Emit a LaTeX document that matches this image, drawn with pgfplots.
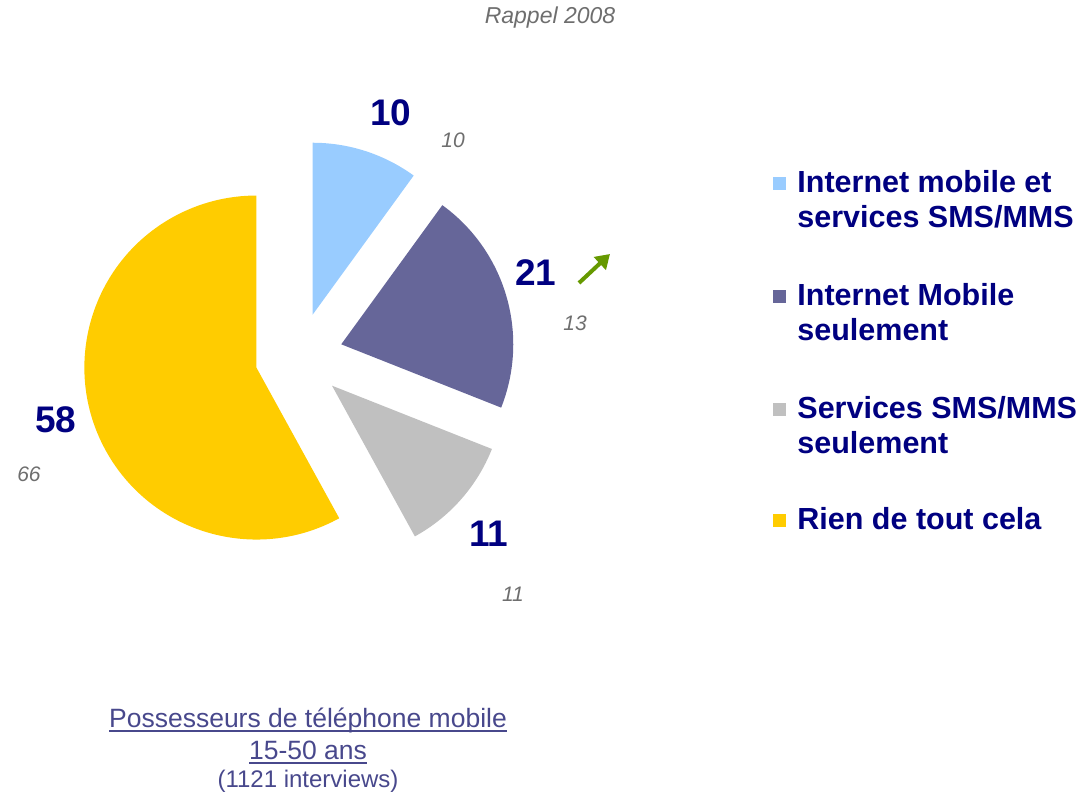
\documentclass[border=0pt]{standalone}
\usepackage{pgfplots}
\pgfplotsset{compat=1.18}
\usepackage{pgfplotstable}
\usepackage{fontspec}
\setmainfont{Liberation Sans}
\usetikzlibrary{calc,arrows.meta}
\definecolor{cblue}{HTML}{99CCFF}
\definecolor{cpurple}{HTML}{666699}
\definecolor{cgray}{HTML}{C0C0C0}
\definecolor{cyellow}{HTML}{FFCC00}
\definecolor{navy}{HTML}{000080}
\definecolor{rgray}{HTML}{6E6E6E}
\definecolor{cgreen}{HTML}{669900}
\definecolor{bottomc}{HTML}{48488C}
% start (cumulative %), value (%), rappel 2008
\pgfplotstableread{
start value rappel
0  10 10
10 21 13
31 11 11
42 58 66
}\piedata
\newcommand{\pieslice}[3]{%
  \pgfmathsetmacro\sa{90-3.6*#1}%
  \pgfmathsetmacro\ea{90-3.6*(#1+#2)}%
  \pgfmathsetmacro\ma{(\sa+\ea)/2}%
  \fill[#3] ($(axis cs:299,438.4)+(\ma:22pt)$) -- ++(\sa:86pt)
     arc[start angle=\sa, end angle=\ea, radius=86pt] -- cycle;
}
\newcommand\ul[1]{\setbox0\hbox{#1}\rlap{\rule[-2pt]{\wd0}{0.75pt}}\box0}
\begin{document}
\begin{tikzpicture}
\begin{axis}[
  scale only axis, width=544pt, height=397.5pt,
  xmin=0, xmax=1088, ymin=0, ymax=795,
  hide axis, clip=false]
\path (axis cs:0,0) rectangle (axis cs:1088,795);
\pgfplotsextra{%
  \pgfplotstablegetelem{0}{start}\of\piedata \let\sA\pgfplotsretval
  \pgfplotstablegetelem{0}{value}\of\piedata \let\vA\pgfplotsretval
  \pgfplotstablegetelem{1}{start}\of\piedata \let\sB\pgfplotsretval
  \pgfplotstablegetelem{1}{value}\of\piedata \let\vB\pgfplotsretval
  \pgfplotstablegetelem{2}{start}\of\piedata \let\sC\pgfplotsretval
  \pgfplotstablegetelem{2}{value}\of\piedata \let\vC\pgfplotsretval
  \pgfplotstablegetelem{3}{start}\of\piedata \let\sD\pgfplotsretval
  \pgfplotstablegetelem{3}{value}\of\piedata \let\vD\pgfplotsretval
  \pieslice{\sA}{\vA}{cblue}
  \pieslice{\sB}{\vB}{cpurple}
  \pieslice{\sC}{\vC}{cgray}
  \pieslice{\sD}{\vD}{cyellow}
}
% value labels
\node[navy, font=\fontsize{18.5}{22}\selectfont\bfseries] at (axis cs:391,682) {10};
\node[navy, font=\fontsize{18.5}{22}\selectfont\bfseries] at (axis cs:536,522) {21};
\node[navy, font=\fontsize{18.5}{22}\selectfont\bfseries] at (axis cs:489,261) {11};
\node[navy, font=\fontsize{18.5}{22}\selectfont\bfseries] at (axis cs:56,375) {58};
% rappel 2008 labels
\node[rgray, font=\fontsize{10.5}{12}\selectfont\itshape] at (axis cs:453,655) {10};
\node[rgray, font=\fontsize{10.5}{12}\selectfont\itshape] at (axis cs:575,472) {13};
\node[rgray, font=\fontsize{10.5}{12}\selectfont\itshape] at (axis cs:513,201) {11};
\node[rgray, font=\fontsize{10.5}{12}\selectfont\itshape] at (axis cs:29,320.5) {66};
\node[rgray, font=\fontsize{11.5}{13}\selectfont\itshape] at (axis cs:550,777) {Rappel 2008};
% arrow
\draw[cgreen, line width=2pt, -{Triangle[length=7pt,width=8.5pt]}] (axis cs:579,512) -- (axis cs:610,541);
% legend
\fill[cblue]   (axis cs:772.5,604.5) rectangle (axis cs:785.5,617.5);
\fill[cpurple] (axis cs:772.5,491.5) rectangle (axis cs:785.5,504.5);
\fill[cgray]   (axis cs:772.5,378.5) rectangle (axis cs:785.5,391.5);
\fill[cyellow] (axis cs:772.5,267.5) rectangle (axis cs:785.5,280.5);
\begin{scope}[every node/.style={navy, anchor=base west, inner sep=0pt, font=\fontsize{15.25}{17}\selectfont\bfseries}]
\node at (axis cs:797,602) {Internet mobile et};
\node at (axis cs:797,567) {services SMS/MMS};
\node at (axis cs:797,489) {Internet Mobile};
\node at (axis cs:797,454) {seulement};
\node at (axis cs:797,376) {Services SMS/MMS};
\node at (axis cs:797,341) {seulement};
\node at (axis cs:797,265) {Rien de tout cela};
\end{scope}
% bottom text
\begin{scope}[every node/.style={bottomc, anchor=base, inner sep=0pt, font=\fontsize{13.25}{15}\selectfont}]
\node at (axis cs:308,67) {\ul{Possesseurs de téléphone mobile}};
\node at (axis cs:308,35) {\ul{15-50 ans}};
\node[font=\fontsize{12}{14}\selectfont] at (axis cs:308,7) {(1121 interviews)};
\end{scope}
\end{axis}
\end{tikzpicture}
\end{document}
